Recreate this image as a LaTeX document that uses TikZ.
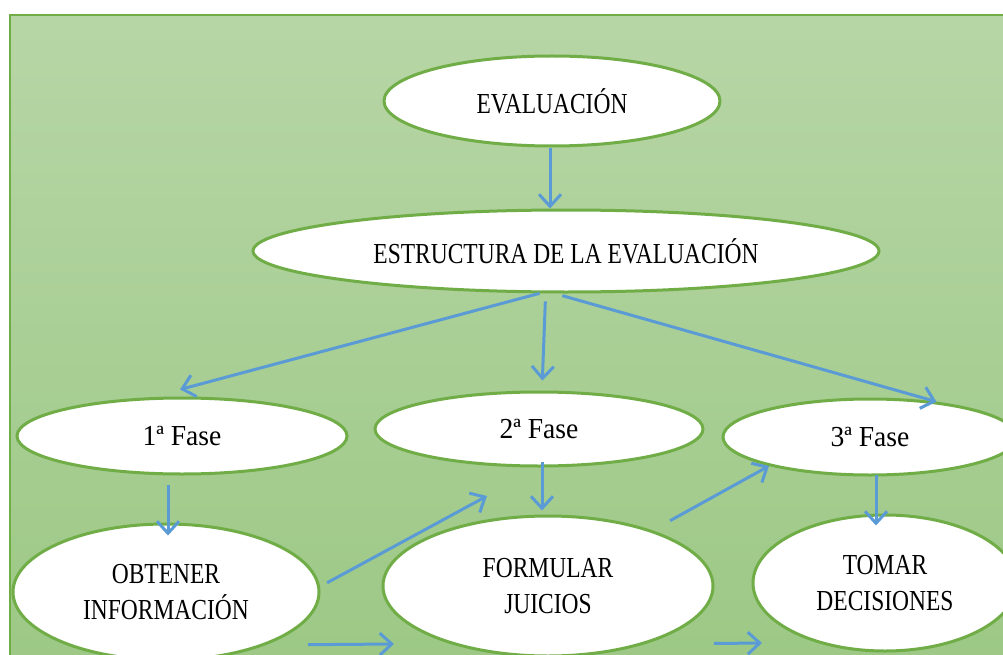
\documentclass[tikz,border=0pt]{standalone}
\usepackage{fontspec}
\setmainfont{Liberation Serif}[FakeStretch=0.81]
\newfontfamily\fasefont{Liberation Serif}[FakeStretch=0.95]
\usetikzlibrary{shapes.geometric,arrows.meta,calc}
\definecolor{fondoarriba}{RGB}{183,214,166}
\definecolor{fondoabajo}{RGB}{156,200,133}
\definecolor{verde}{RGB}{112,173,71}
\definecolor{azul}{RGB}{91,155,213}
\begin{document}
\begin{tikzpicture}[x=1pt,y=-1pt,
    etapa/.style ={ellipse, draw=verde, fill=white, line width=3pt, inner sep=0pt,
                   align=center, font=\fontsize{29}{36}\selectfont},
    fase/.style ={etapa, font=\fasefont\fontsize{29}{34}\selectfont},
    flecha/.style ={draw=azul, line width=3pt, -{Straight Barb[length=12pt,width=22pt]}}]
   \clip (0,0) rectangle (1003,655);
   \shade[top color=fondoarriba, bottom color=fondoabajo] (10,15) rectangle (1015,670);
   \draw[verde, line width=2pt] (10,15) rectangle (1015,670);

   \node[etapa, minimum width=336pt, minimum height=90pt] (eval) at (552,101) {EVALUACIÓN};
   \node[etapa, minimum width=626pt, minimum height=82pt] (estr) at (566,251) {ESTRUCTURA DE LA EVALUACIÓN};
   \node[fase, minimum width=330pt, minimum height=76pt] (f1) at (182,436) {1ª Fase};
   \node[fase, minimum width=328pt, minimum height=74pt] (f2) at (539,429) {2ª Fase};
   \node[fase, minimum width=294pt, minimum height=76pt] (f3) at (870,437) {3ª Fase};
   \node[etapa, minimum width=306pt, minimum height=136pt] (obt) at (166,592) {OBTENER\\INFORMACIÓN};
   \node[etapa, minimum width=330pt, minimum height=140pt] (form) at (548,586) {FORMULAR\\JUICIOS};
   \node[etapa, minimum width=264pt, minimum height=136pt] (tomar) at (885,583) {TOMAR\\DECISIONES};

   % extremos sueltos
   \coordinate (libre1) at (487,496);
   \coordinate (libre2) at (394,644);
   \coordinate (libre3) at (762,643);

   \draw[flecha] ($(eval.south)+(-2,1)$) -- ($(eval.south |- estr.north)+(-2,0)$);
   \draw[flecha] (estr.238) -- ($(f1.north)+(-2,-7)$);
   \draw[flecha] ($(estr.244)+(0,8)$) -- ($(estr.244 |- f2.north)+(-3,-10)$);
   \draw[flecha, shorten <=8pt] (estr.255) -- (f3.28);

   \draw[flecha] ($(obt.north |- f1.south)+(2,9)$) -- ($(obt.north)+(2,13)$);
   \draw[flecha] ($(f2.south)+(3,-6)$) -- ($(form.north)+(-6,-4)$);
   \draw[flecha] ($(f3.south)+(6,-2)$) -- ($(tomar.north)+(-9,12)$);

   \draw[flecha, shorten <=8pt] (obt.2) -- (libre1);
   \draw[flecha, shorten <=20pt] (form.28) -- (f3.196);
   \draw[flecha, shorten <=42pt] (obt.-28) -- (libre2);
   \draw[flecha, shorten <=69pt] (form.-31) -- (libre3);
 \end{tikzpicture}
\end{document}
